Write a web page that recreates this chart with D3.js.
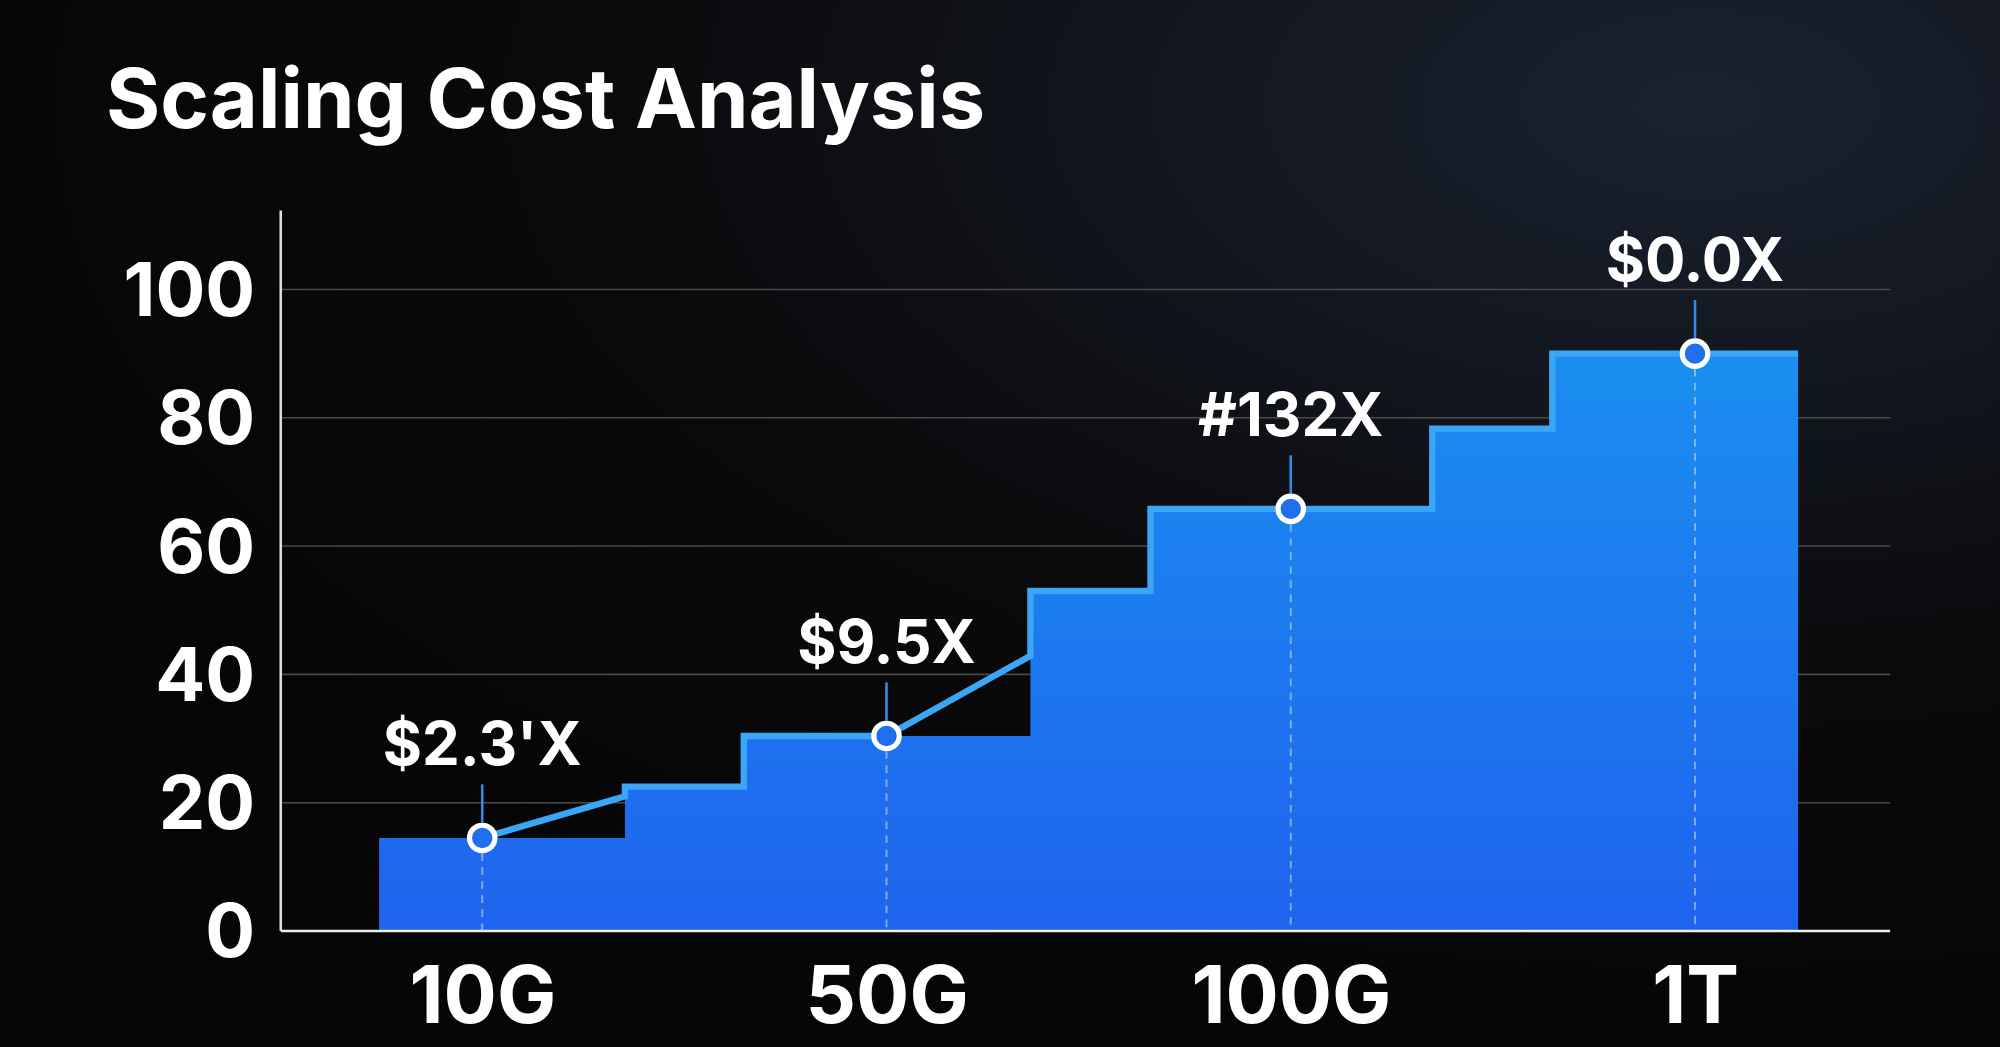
<!DOCTYPE html>
<html><head><meta charset="utf-8">
<script src="https://cdn.jsdelivr.net/npm/d3@7"></script>
<style>
html,body{margin:0;padding:0;background:#070707;overflow:hidden}
text{font-family:Inter,"DejaVu Sans",sans-serif;font-weight:700;fill:#fff}
</style></head><body>
<svg id="chart" width="2000" height="1047" viewBox="0 0 1568 821"></svg>
<script>
// data
const categories = ["10G", "50G", "100G", "1T"];
const markerValues = [14.5, 30.4, 65.8, 90];
const markerLabels = ["$2.3'X", "$9.5X", "#132X", "$0.0X"];
const stepEdges = [-0.255, 0.353, 0.647, 1.356, 1.653, 2.35, 2.647, 3.255];
const stepValues = [14.5, 22.5, 30.4, 53, 65.8, 78.3, 90];
const outline = [[0, 14.5], [0.353, 21], [0.353, 22.5], [0.647, 22.5], [0.647, 30.4], [1, 30.4],
  [1.356, 42.9], [1.356, 53], [1.653, 53], [1.653, 65.8], [2.35, 65.8], [2.35, 78.3],
  [2.647, 78.3], [2.647, 90], [3.255, 90]];
const yTicks = [0, 20, 40, 60, 80, 100];

const svg = d3.select("#chart");
const defs = svg.append("defs");
const bg = defs.append("radialGradient").attr("id", "bg").attr("cx", "85%").attr("cy", "10%").attr("r", "90%");
bg.append("stop").attr("offset", "0%").attr("stop-color", "#1a2230");
bg.append("stop").attr("offset", "60%").attr("stop-color", "#0a0a0c");
bg.append("stop").attr("offset", "100%").attr("stop-color", "#060606");
const fg = defs.append("linearGradient").attr("id", "fill").attr("x1", 0).attr("y1", 0).attr("x2", 0).attr("y2", 1);
fg.append("stop").attr("offset", "0%").attr("stop-color", "#1a8ef0");
fg.append("stop").attr("offset", "100%").attr("stop-color", "#1f63ee");

svg.append("rect").attr("width", 1568).attr("height", 821).attr("fill", "url(#bg)");

const x = d3.scaleLinear().domain([0, 3]).range([378, 1329]);
const y = d3.scaleLinear().domain([0, 100]).range([730, 227]);

svg.append("text").attr("x", 83).attr("y", 100).attr("font-size", 65).text("Scaling Cost Analysis");

// grid
svg.append("g").selectAll("line").data(yTicks.slice(1)).join("line")
  .attr("x1", 220).attr("x2", 1482).attr("y1", d => y(d)).attr("y2", d => y(d))
  .attr("stroke", "#4a4a4a").attr("stroke-width", 1.2);

// step area
const stepPts = [];
stepValues.forEach((v, i) => { stepPts.push([stepEdges[i], v]); stepPts.push([stepEdges[i + 1], v]); });
const area = d3.area().x(d => x(d[0])).y0(y(0)).y1(d => y(d[1]));
svg.append("path").attr("d", area(stepPts)).attr("fill", "url(#fill)");

// outline
const line = d3.line().x(d => x(d[0])).y(d => y(d[1]));
svg.append("path").attr("d", line(outline)).attr("fill", "none")
  .attr("stroke", "#3aa6f5").attr("stroke-width", 5).attr("stroke-linejoin", "miter");

// axes
const yAxis = svg.append("g").attr("transform", "translate(220,0)")
  .call(d3.axisLeft(y).tickValues(yTicks).tickSize(0).tickPadding(20));
yAxis.select(".domain").remove();
yAxis.selectAll("text").attr("font-size", 58).attr("fill", "#fff").attr("dy", "0.35em")
  .style("font-family", "Inter, sans-serif").style("font-weight", 700);
svg.append("line").attr("x1", 220).attr("x2", 220).attr("y1", 165).attr("y2", 730).attr("stroke", "#ddd").attr("stroke-width", 2);
svg.append("line").attr("x1", 220).attr("x2", 1482).attr("y1", 730).attr("y2", 730).attr("stroke", "#eee").attr("stroke-width", 2);

const xAxis = svg.append("g").attr("transform", "translate(0,730)")
  .call(d3.axisBottom(x).tickValues([0, 1, 2, 3]).tickFormat(i => categories[i]).tickSize(0).tickPadding(28));
xAxis.select(".domain").remove();
xAxis.selectAll("text").attr("font-size", 62).attr("fill", "#fff").attr("dy", "0.71em")
  .style("font-family", "Inter, sans-serif").style("font-weight", 700);

// markers
const m = svg.append("g").selectAll("g").data(markerValues).join("g");
m.append("line").attr("x1", (d, i) => x(i)).attr("x2", (d, i) => x(i))
  .attr("y1", d => y(d) + 12).attr("y2", y(0)).attr("stroke", "#cfd8e8").attr("stroke-opacity", 0.6)
  .attr("stroke-width", 1.5).attr("stroke-dasharray", "6,5");
m.append("line").attr("x1", (d, i) => x(i)).attr("x2", (d, i) => x(i))
  .attr("y1", d => y(d) - 12).attr("y2", d => y(d) - 42).attr("stroke", "#2f8fe8").attr("stroke-width", 2);
m.append("circle").attr("cx", (d, i) => x(i)).attr("cy", d => y(d)).attr("r", 10)
  .attr("fill", "#1f6fee").attr("stroke", "#fff").attr("stroke-width", 4);
m.append("text").attr("x", (d, i) => x(i)).attr("y", d => y(d) - 57).attr("text-anchor", "middle")
  .attr("font-size", 47).text((d, i) => markerLabels[i]);
</script>
</body></html>
